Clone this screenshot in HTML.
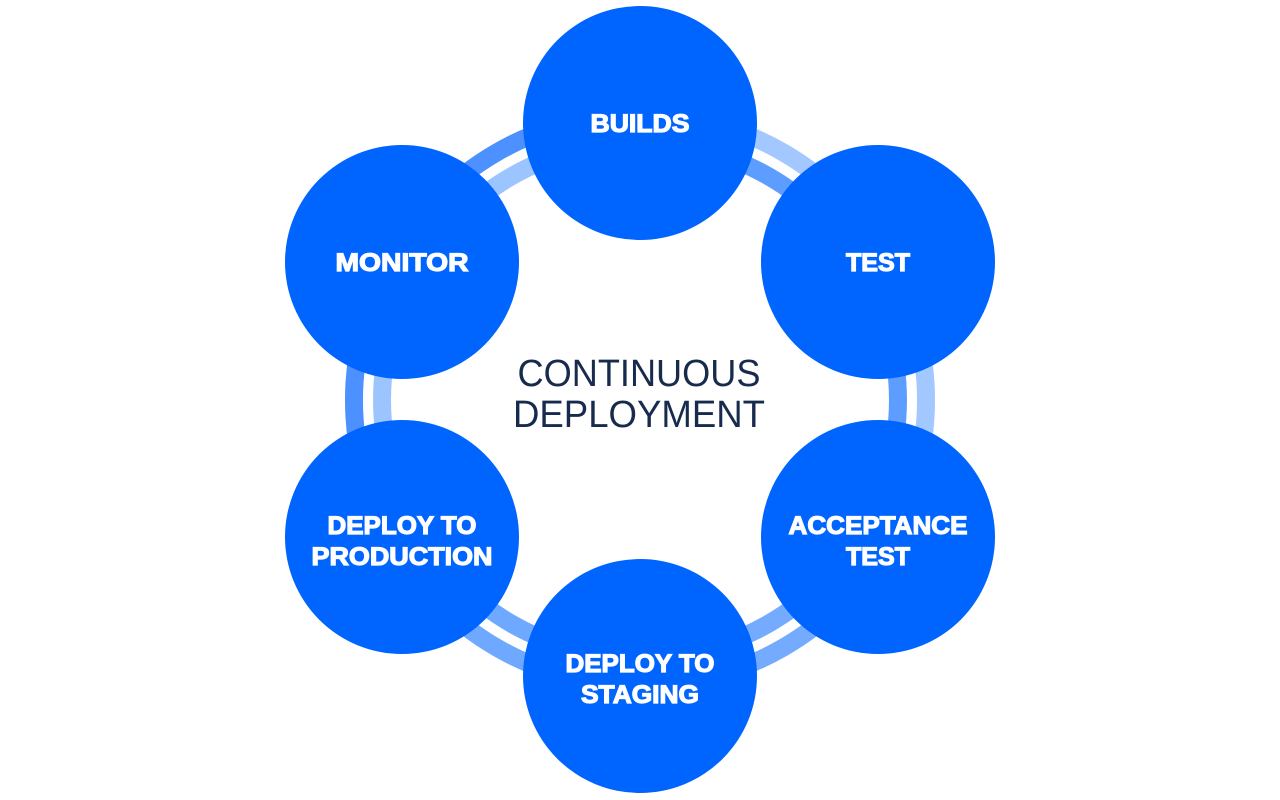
<!DOCTYPE html>
<html><head><meta charset="utf-8"><style>html,body{margin:0;padding:0;background:#fff}svg{display:block}</style></head>
<body>
<svg width="1280" height="800" viewBox="0 0 1280 800" xmlns="http://www.w3.org/2000/svg">
<g fill="none" stroke-width="18">
<path d="M640,114 A286,286 0 0 1 887.7,257" stroke="#a3c8ff"/>
<path d="M640,142 A258,258 0 0 1 863.4,271" stroke="#5c9dff"/>
<path d="M887.7,257 A286,286 0 0 1 887.7,543" stroke="#a3c8ff"/>
<path d="M863.4,271 A258,258 0 0 1 863.4,529" stroke="#5c9dff"/>
<path d="M887.7,543 A286,286 0 0 1 640,686" stroke="#74abff"/>
<path d="M863.4,529 A258,258 0 0 1 640,658" stroke="#74abff"/>
<path d="M640,686 A286,286 0 0 1 392.3,543" stroke="#6fa8ff"/>
<path d="M640,658 A258,258 0 0 1 416.6,529" stroke="#6fa8ff"/>
<path d="M392.3,543 A286,286 0 0 1 392.3,257" stroke="#4d90ff"/>
<path d="M416.6,529 A258,258 0 0 1 416.6,271" stroke="#9cc4ff"/>
<path d="M392.3,257 A286,286 0 0 1 640,114" stroke="#4d90ff"/>
<path d="M416.6,271 A258,258 0 0 1 640,142" stroke="#9cc4ff"/>
</g>
<g fill="#0065ff">
<circle cx="640" cy="123" r="117"/>
<circle cx="878" cy="262" r="117"/>
<circle cx="878" cy="537" r="117"/>
<circle cx="640" cy="676" r="117"/>
<circle cx="402" cy="537" r="117"/>
<circle cx="402" cy="262" r="117"/>
</g>
<g fill="#fff" stroke="#fff" stroke-width="1.2" font-family="Liberation Sans, sans-serif" font-weight="bold" font-size="25" text-anchor="middle">
<text x="640" y="132" textLength="99" lengthAdjust="spacingAndGlyphs">BUILDS</text>
<text x="878" y="271" textLength="64" lengthAdjust="spacingAndGlyphs">TEST</text>
<text x="402" y="271" textLength="133" lengthAdjust="spacingAndGlyphs">MONITOR</text>
<text x="878" y="534" textLength="179" lengthAdjust="spacingAndGlyphs">ACCEPTANCE</text>
<text x="878" y="565" textLength="64" lengthAdjust="spacingAndGlyphs">TEST</text>
<text x="402" y="534" textLength="149" lengthAdjust="spacingAndGlyphs">DEPLOY TO</text>
<text x="402" y="565" textLength="181" lengthAdjust="spacingAndGlyphs">PRODUCTION</text>
<text x="640" y="672" textLength="149" lengthAdjust="spacingAndGlyphs">DEPLOY TO</text>
<text x="640" y="703" textLength="118" lengthAdjust="spacingAndGlyphs">STAGING</text>
</g>
<g fill="#172b4d" font-family="Liberation Sans, sans-serif" font-size="38" text-anchor="middle">
<text x="639" y="386" textLength="243" lengthAdjust="spacingAndGlyphs">CONTINUOUS</text>
<text x="639" y="427" textLength="252" lengthAdjust="spacingAndGlyphs">DEPLOYMENT</text>
</g>
</svg>
</body></html>
